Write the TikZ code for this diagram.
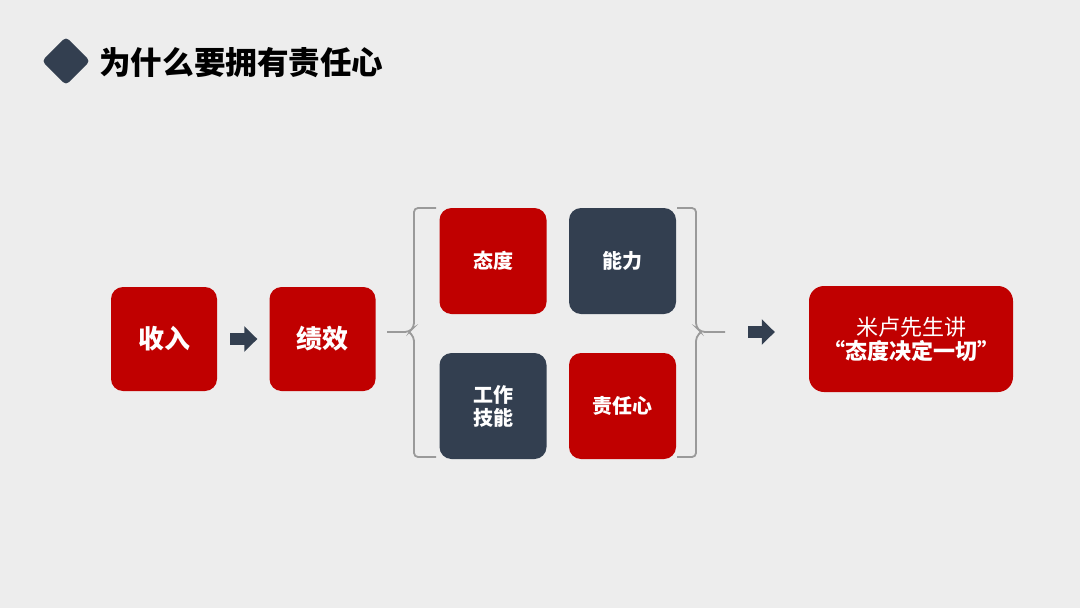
\documentclass[tikz,border=0pt]{standalone}
\usepackage{fontspec}
\setmainfont{Noto Sans CJK SC}
\usepackage{tikz}
\usetikzlibrary{arrows.meta,positioning,calc}
\usepackage{xcolor}
\definecolor{deepred}{HTML}{C00000}
\definecolor{slate}{HTML}{333F50}
\definecolor{paper}{HTML}{EDEDED}
\definecolor{bracegray}{HTML}{9A9A9A}

\begin{document}
\begin{tikzpicture}[x=1pt, y=-1pt,
  redbox/.style={rectangle, fill=deepred, text=white, minimum width=106pt, minimum height=104pt, rounded corners=12pt, inner sep=0pt, font=\bfseries\fontsize{26}{30}\selectfont},
  tile/.style={rectangle, fill=#1, text=white, minimum width=107pt, minimum height=106pt, rounded corners=12pt, inner sep=0pt, align=center, font=\bfseries\fontsize{20}{23}\selectfont},
  blockarrow/.style={-{Triangle[length=13pt, width=25pt]}, line width=12pt, draw=slate},
  brace/.style={draw=bracegray, line width=1.8pt, rounded corners=4pt}
]
\fill[paper] (0,0) rectangle (1080,608);
\useasboundingbox (0,0) rectangle (1080,608);

% title
\node[fill=slate, rotate=45, minimum size=34pt, inner sep=0pt, rounded corners=4pt] (mark) at (66,61) {};
\node[anchor=west, inner sep=0pt, font=\bfseries\fontsize{31.6}{36}\selectfont] (title) at (99,63) {为什么要拥有责任心};

% chain
\node[redbox] (income) at (164,339) {收入};
\node[redbox] (perf) at (322.5,339) {绩效};
\node[tile=deepred] (attitude) at (493,261) {态度};
\node[tile=slate] (ability) at (622.5,261) {能力};
\node[tile=slate] (skill) at (493,406) {工作\\技能};
\node[tile=deepred] (resp) at (622.5,406) {责任心};
\node[rectangle, fill=deepred, text=white, minimum width=204pt, minimum height=106pt, rounded corners=15pt, align=center, font=\fontsize{22}{24}\selectfont] (quote) at (911,339) {米卢先生讲\\{\bfseries “态度决定一切”}};

\coordinate (ltip) at (387,332);
\coordinate (rtip) at (725,332);

% braces
\draw[brace] (436,208) -| (414,327) -- (409,332) -- (ltip);
\draw[brace] (436,457) -| (414,337) -- (409,332);
\draw[brace] (677,208) -| (696,327) -- (701,332) -- (rtip);
\draw[brace] (677,457) -| (696,337) -- (701,332);

\draw[blockarrow, shorten <=13pt, shorten >=12pt] (income) -- (perf);
\draw[blockarrow, shorten <=23pt, shorten >=34pt] (rtip) -- (rtip -| quote.west);
\end{tikzpicture}
\end{document}
